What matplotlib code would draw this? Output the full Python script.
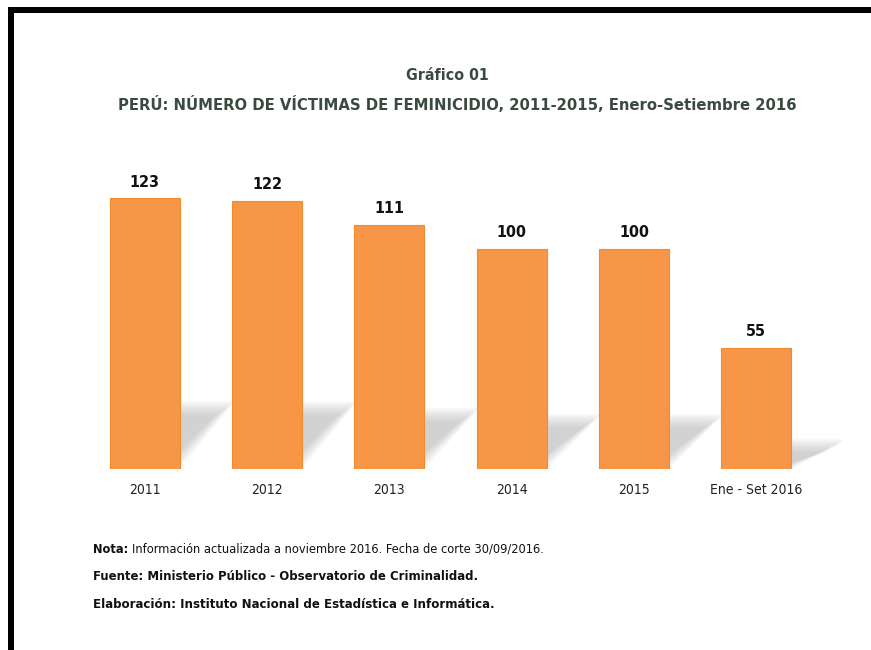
import matplotlib
matplotlib.use("Agg")
import matplotlib.pyplot as plt
from matplotlib.lines import Line2D

categories = ['2011', '2012', '2013', '2014', '2015', 'Ene - Set 2016']
victimas = [123, 122, 111, 100, 100, 55]

titulo1 = 'Gráfico 01'
titulo2 = 'PERÚ: NÚMERO DE VÍCTIMAS DE FEMINICIDIO, 2011-2015, Enero-Setiembre 2016'
nota_b = 'Nota:'
nota_r = 'Información actualizada a noviembre 2016. Fecha de corte 30/09/2016.'
fuente = 'Fuente: Ministerio Público - Observatorio de Criminalidad.'
elab = 'Elaboración: Instituto Nacional de Estadística e Informática.'

FONT = dict(family='DejaVu Sans', stretch='condensed')
W, H = 871, 650
orange = '#F79646'
title_col = '#3B4A40'

fig = plt.figure(figsize=(W / 100, H / 100), dpi=100)
fig.patch.set_facecolor('white')
renderer = fig.canvas.get_renderer()


def fit(t, width_px):
    # shrink/grow a text until it spans the wanted width in pixels
    w = t.get_window_extent(renderer).width
    t.set_fontsize(t.get_fontsize() * width_px / w)


left_px, right_px = 59, 842
base_px, top_px = 469, 161
ax = fig.add_axes([left_px / W, (H - base_px) / H,
                   (right_px - left_px) / W, (base_px - top_px) / H])
ax.set_xlim(-0.7, 5.7)
ax.set_ylim(0, 140)
ax.axis('off')

x = list(range(len(categories)))
bw = 0.57

# soft cast shadows behind the bars
for xi, v in zip(x, victimas):
    h = v * 0.25
    dx = 0.45
    xl = xi - bw / 2
    xr = xi + bw / 2
    for k in range(7):
        e = 0.025 * k
        ax.fill([xl, xr - e, xr + dx - e, xl + dx],
                [0, 0, h - e * 40, h - e * 40],
                color='#a8a8a8', alpha=0.09, lw=0, zorder=1)

ax.bar(x, victimas, width=bw, color=orange, edgecolor='#F28A30', lw=0.8, zorder=3)

for xi, v in zip(x, victimas):
    ax.text(xi, v + 4, str(v), ha='center', va='bottom', fontsize=11.5,
            fontweight='bold', color='#111111', **FONT)
    ax.text(xi, -9.5, categories[xi], ha='center', va='center', fontsize=10,
            color='#222222', **FONT)

t = fig.text(447 / W, 1 - 75 / H, titulo1, ha='center', va='center', fontsize=14,
             fontweight='bold', color=title_col, **FONT)
fit(t, 83)
t = fig.text(457 / W, 1 - 104 / H, titulo2, ha='center', va='center', fontsize=14,
             fontweight='bold', color=title_col, **FONT)
fit(t, 679)

# note line: bold label followed by regular text on one baseline
fs_note = 9.2
y_nota = 1 - 553 / H
t1 = fig.text(93 / W, y_nota, nota_b, ha='left', va='baseline', fontsize=fs_note,
              fontweight='bold', color='#111111', **FONT)
w1 = t1.get_window_extent(renderer).width
fig.text((93 + w1 + 4) / W, y_nota, nota_r, ha='left', va='baseline',
         fontsize=fs_note, color='#111111', **FONT)

t = fig.text(93 / W, 1 - 577 / H, fuente, ha='left', va='center', fontsize=10,
             fontweight='bold', color='#111111', **FONT)
fit(t, 380)
t = fig.text(93 / W, 1 - 604 / H, elab, ha='left', va='center', fontsize=10,
             fontweight='bold', color='#111111', **FONT)
fit(t, 399)

# black frame (top and left)
lw = 6 * 72 / 100
fig.add_artist(Line2D([11 / W, 11 / W], [0, 1 - 8 / H], color='black', lw=lw,
                      transform=fig.transFigure, solid_capstyle='butt'))
fig.add_artist(Line2D([8 / W, 1], [1 - 10 / H, 1 - 10 / H], color='black', lw=lw,
                      transform=fig.transFigure, solid_capstyle='butt'))

fig.savefig('out.png', dpi=100)
